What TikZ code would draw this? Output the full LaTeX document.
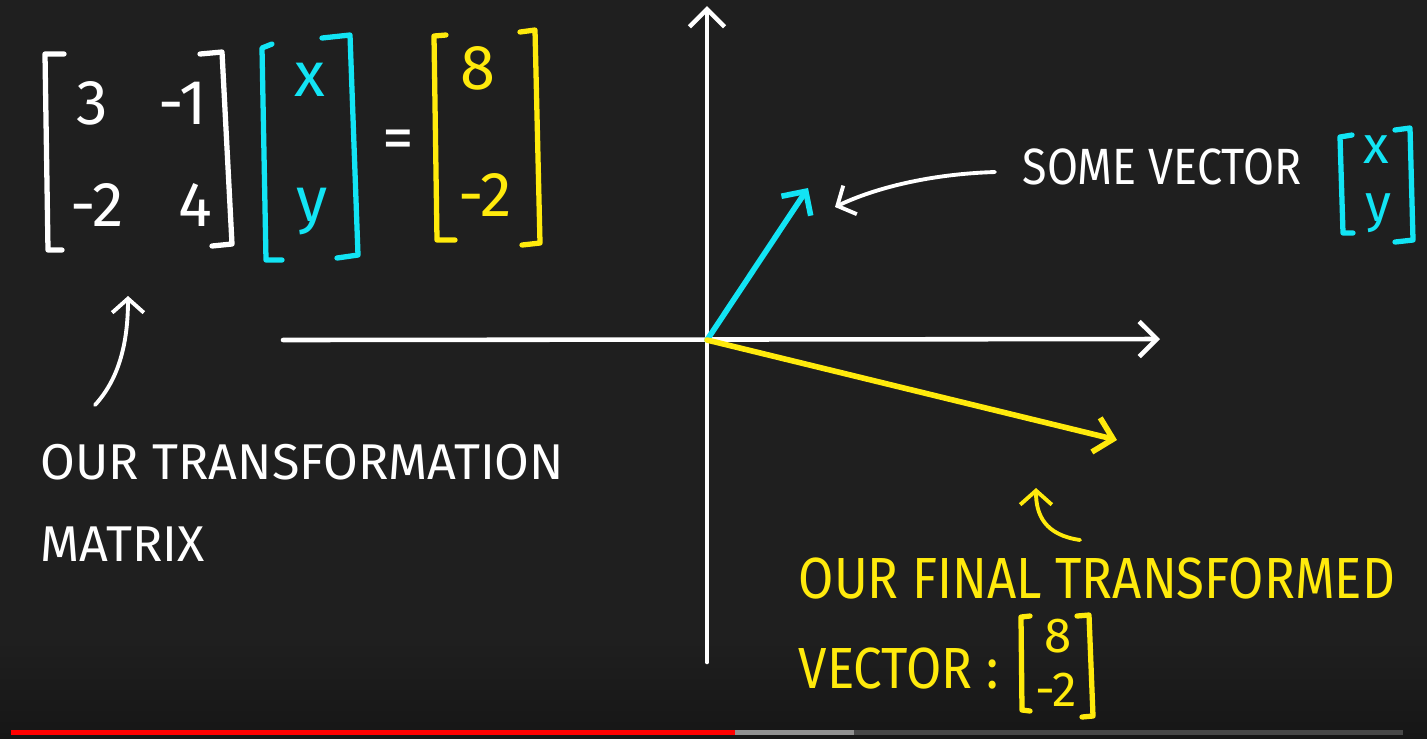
\documentclass[tikz,border=0pt]{standalone}
\usepackage{fontspec}
\setmainfont{Fira Sans}
\newfontfamily\handnarrow[FakeStretch=0.88]{Fira Sans}
\usetikzlibrary{arrows.meta, positioning, calc}

\definecolor{board}{HTML}{1F1F1F}
\definecolor{boardlow}{HTML}{161616}
\definecolor{chalkcyan}{HTML}{12E4F4}
\definecolor{chalkyellow}{HTML}{FFEA0C}
\definecolor{barred}{HTML}{FF0000}
\definecolor{barlight}{HTML}{909090}
\definecolor{bardark}{HTML}{474747}

\begin{document}
\begin{tikzpicture}[
    x=0.01cm, y=-0.01cm,
    chalk/.style={line width=1.3pt, line cap=round, line join=round},
    axis/.style={chalk, white, -{Straight Barb[length=5pt, width=10pt]}},
    vec/.style={chalk, line width=1.6pt, -{Straight Barb[length=5pt, width=10pt]}},
    note/.style={chalk, line width=1.1pt, -{Straight Barb[length=4pt, width=9pt]}},
    bracket/.style={chalk, line width=1.5pt},
    entry/.style={inner sep=0pt, font=\fontsize{18}{20}\selectfont},
    hand/.style={inner sep=0pt, anchor=west, font=\fontsize{14.3}{17}\selectfont},
    narrow/.style={hand, font=\handnarrow\fontsize{16.5}{19}\selectfont}
  ]
  % board
  \fill[board] (0,0) rectangle (1427,738);
  \shade[top color=board, bottom color=boardlow] (0,640) rectangle (1427,738);

  % axes
  \coordinate (origin) at (707,340);
  \coordinate (xleft) at (283,340);
  \coordinate (xright) at (1160,339);
  \coordinate (ybot) at (707,662);
  \coordinate (ytop) at (707,6);
  \draw[axis] (xleft) -- (xright);
  \draw[axis] (ybot) -- (ytop);

  % the two vectors
  \coordinate (vtip) at (808,188);
  \coordinate (wtip) at (1117,440);
  \draw[vec, chalkcyan] (origin) -- (vtip);
  \draw[vec, chalkyellow] (origin) -- (wtip);

  % matrix times vector
  \node[entry, white] (a11) at (92,103) {3};
  \node[entry, white] (a12) at (183,103) {-1};
  \node[entry, white] (a21) at (97,205) {-2};
  \node[entry, white] (a22) at (195,205) {4};
  \draw[bracket, white] (64,54) -- (45,54) -- (48,250) -- (62,250);
  \draw[bracket, white] (200,54) -- (222,52) -- (232,244) -- (212,246);

  \node[entry, chalkcyan] (vx) at (310,80) {x};
  \node[entry, chalkcyan] (vy) at (312,212) {y};
  \draw[bracket, chalkcyan] (272,44) -- (262,48) -- (266,260) -- (282,260);
  \draw[bracket, chalkcyan] (322,38) -- (350,35) -- (358,255) -- (337,258);

  \node[entry, white] (eq) at (398,145) {=};

  \node[entry, chalkyellow] (w1) at (478,68) {8};
  \node[entry, chalkyellow] (w2) at (485,195) {-2};
  \draw[bracket, chalkyellow] (446,35) -- (434,36) -- (437,240) -- (455,240);
  \draw[bracket, chalkyellow] (520,32) -- (535,30) -- (540,243) -- (522,245);

  % left caption
  \node[hand, white] (trans) at (40,462) {OUR TRANSFORMATION};
  \node[hand, white, below=0.45cm of trans.south west, anchor=north west] (mat) {MATRIX};
  \coordinate (transtail) at (95,405);
  \coordinate (transtip) at (128,296);
  \draw[note, white] (transtail) .. controls (118,380) and (128,345) .. (transtip);

  % right caption
  \node[narrow, white, font=\handnarrow\fontsize{14.5}{17}\selectfont] (some) at (1022,167) {SOME VECTOR};
  \node[entry, chalkcyan, font=\fontsize{15}{17}\selectfont] (sx) at (1376,150) {x};
  \node[entry, chalkcyan, font=\fontsize{15}{17}\selectfont] (sy) at (1378,213) {y};
  \draw[bracket, chalkcyan] (1352,135) -- (1340,137) -- (1343,233) -- (1353,233);
  \draw[bracket, chalkcyan] (1395,130) -- (1410,128) -- (1413,240) -- (1395,242);
  \coordinate (sometail) at (995,172);
  \coordinate (sometip) at (835,207);
  \draw[note, white] (sometail) .. controls (930,174) and (875,188) .. (sometip);

  % bottom caption
  \node[narrow, chalkyellow] (final) at (798,578) {OUR FINAL TRANSFORMED};
  \node[narrow, chalkyellow, below=0.48cm of final.south west, anchor=north west] (vec) {VECTOR :};
  \node[entry, chalkyellow, font=\fontsize{14}{16}\selectfont] (f1) at (1058,636) {8};
  \node[entry, chalkyellow, font=\fontsize{14}{16}\selectfont] (f2) at (1056,690) {-2};
  \draw[bracket, chalkyellow] (1030,616) -- (1021,617) -- (1022,710) -- (1030,711);
  \draw[bracket, chalkyellow] (1077,616) -- (1089,615) -- (1093,716) -- (1082,717);
  \coordinate (finaltail) at (1080,540);
  \coordinate (finaltip) at (1036,488);
  \draw[note, chalkyellow] (finaltail) .. controls (1045,535) and (1036,515) .. (finaltip);

  % progress bar
  \fill[barred] (11,730) rectangle (735,735);
  \fill[barlight] (735,730) rectangle (854,735);
  \fill[bardark] (854,730) rectangle (1403,735);
\end{tikzpicture}
\end{document}
